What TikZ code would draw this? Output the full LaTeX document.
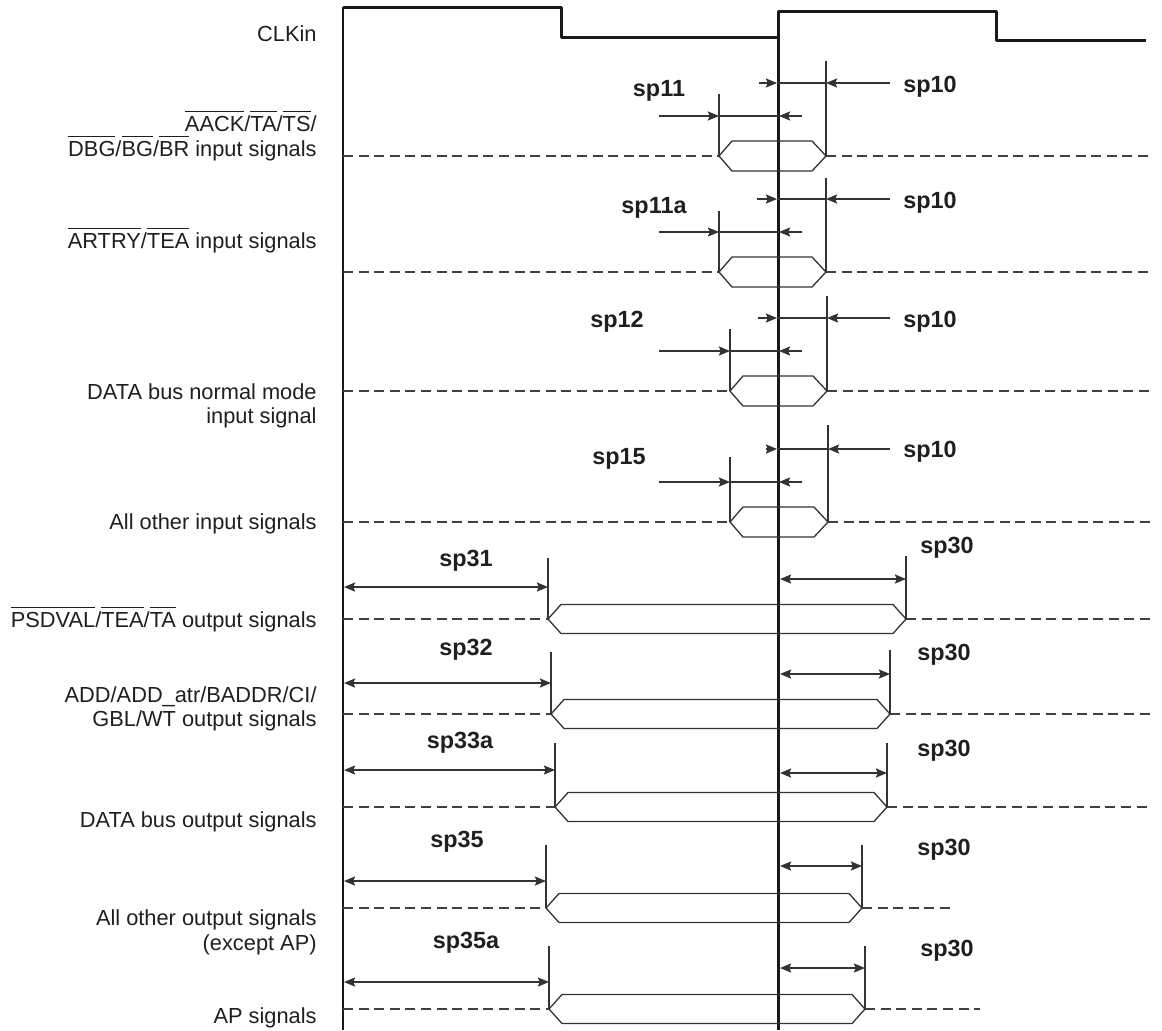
\documentclass[tikz,border=0pt]{standalone}
\usepackage{fontspec}
\setmainfont{Liberation Sans}
\usetikzlibrary{arrows.meta,calc}
\newcommand\ovl[1]{\vbox{\hrule height 0.55pt\kern 1.9pt\hbox{#1}}}
\tikzset{
  sig/.style={line width=1.5pt, draw=black!90},
  lft/.style={line width=1.3pt, draw=black!90},
  thinl/.style={line width=0.65pt, draw=black!80},
  dashl/.style={line width=0.65pt, draw=black!75, dash pattern=on 5pt off 2.8pt},
  arr/.style={thinl, -{Stealth[length=5.6pt,width=4.6pt,inset=1pt]}},
  darr/.style={thinl, {Stealth[length=5.6pt,width=4.6pt,inset=1pt]}-{Stealth[length=5.6pt,width=4.6pt,inset=1pt]}},
  lbl/.style={font=\fontsize{10.9}{13}\selectfont, inner sep=0pt, text=black!88, anchor=base east},
  spl/.style={font=\bfseries\fontsize{11.7}{14}\selectfont, inner sep=0pt, text=black!88, anchor=base},
  spr/.style={spl, anchor=base west}
}
% input row: #1 id, #2 ymid, #3 xl, #4 xr, #5 right marker top, #6 left marker top, #7 y sp10, #8 y sp11, #9 x start of short arrow
\newcommand\inrow[9]{%
  \coordinate (#1s) at (343,#2); \coordinate (#1e) at (1150,#2);
  \coordinate (#1L) at (#3,#2); \coordinate (#1R) at (#4,#2);
  \coordinate (#1Lt) at (#3,#6); \coordinate (#1Rt) at (#4,#5);
  \draw[dashl] (#1s) -- (#1L);
  \draw[dashl] (#1R) -- (#1e);
  \draw[thinl] (#1L) -- ++(13,-15) -- ($(#1R)+(-14,-15)$) -- (#1R) -- ($(#1R)+(-14,15)$) -- ($(#1L)+(13,15)$) -- cycle;
  \draw[thinl] (#1Lt) -- (#1L);
  \draw[thinl] (#1Rt) -- (#1R);
  \coordinate (#1a) at (#9,#7); \coordinate (#1b) at (777,#7);
  \coordinate (#1c) at (#4,#7); \coordinate (#1d) at (890,#7);
  \draw[arr] (#1a) -- (#1b);
  \draw[thinl] (#1b) -- (#1c);
  \draw[arr] (#1d) -- (#1c);
  \coordinate (#1f) at (659,#8); \coordinate (#1g) at (#3,#8);
  \coordinate (#1h) at (779,#8); \coordinate (#1i) at (802,#8);
  \draw[arr] (#1f) -- (#1g);
  \draw[thinl] (#1g) -- (#1h);
  \draw[arr] (#1i) -- (#1h);
}
% output row: #1 id, #2 ymid, #3 xl, #4 xr, #5 left marker top, #6 right marker top, #7 y left arrow, #8 y right arrow, #9 x dash end
\newcommand\outrow[9]{%
  \coordinate (#1s) at (343,#2); \coordinate (#1e) at (#9,#2);
  \coordinate (#1L) at (#3,#2); \coordinate (#1R) at (#4,#2);
  \coordinate (#1Lt) at (#3,#5); \coordinate (#1Rt) at (#4,#6);
  \draw[dashl] (#1s) -- (#1L);
  \draw[dashl] (#1R) -- (#1e);
  \draw[thinl] (#1L) -- ++(13,-14.5) -- ($(#1R)+(-13,-14.5)$) -- (#1R) -- ($(#1R)+(-13,14.5)$) -- ($(#1L)+(13,14.5)$) -- cycle;
  \draw[thinl] (#1Lt) -- (#1L);
  \draw[thinl] (#1Rt) -- (#1R);
  \coordinate (#1p) at (344,#7); \coordinate (#1q) at (#3,#7);
  \coordinate (#1u) at (780,#8); \coordinate (#1v) at (#4,#8);
  \draw[darr] (#1p) -- (#1q);
  \draw[darr] (#1u) -- (#1v);
}
\begin{document}
\begin{tikzpicture}[x=0.5pt,y=-0.5pt]
\useasboundingbox (0,0) rectangle (1162,1030);
% clock and reference lines
\coordinate (c0) at (343,1030); \coordinate (c1) at (343,7); \coordinate (c2) at (561,7);
\coordinate (c3) at (561,37); \coordinate (c4) at (778,37);
\coordinate (d0) at (778,1030); \coordinate (d1) at (778,11); \coordinate (d2) at (996,11);
\coordinate (d3) at (996,40); \coordinate (d4) at (1146,40);
\draw[lft] (c0) -- (c1);
\draw[sig, line join=round] (c1) -- (c2) -- (c3) -- (c4);
\draw[sig, line join=round] (d0) -- (d1) -- (d2) -- (d3) -- (d4);

% input rows
\inrow{i1}{156}{719}{826}{61}{94}{83}{116}{759}
\inrow{i2}{272}{719}{826}{178}{211}{199}{232}{757}
\inrow{i3}{391}{730}{827}{296}{329}{318}{351}{758}
\inrow{i4}{522}{730}{828}{425}{457}{449}{482}{766}

% output rows
\outrow{o1}{619}{548}{906}{558}{556}{587}{579}{1150}
\outrow{o2}{714}{551}{890}{652}{650}{683}{674}{1150}
\outrow{o3}{807}{555}{887}{743}{743}{770}{773}{1150}
\outrow{o4}{908}{546}{862}{845}{845}{881}{866}{953}
\outrow{o5}{1009}{549}{865}{946}{946}{982}{968}{980}

% timing labels
\node[spl] (t11) at (659,96) {sp11};
\node[spr] (t10a) at (903,92) {sp10};
\node[spl] (t11a) at (654,213) {sp11a};
\node[spr] (t10b) at (903,208) {sp10};
\node[spl] (t12) at (617,327) {sp12};
\node[spr] (t10c) at (903,327) {sp10};
\node[spl] (t15) at (619,464) {sp15};
\node[spr] (t10d) at (903,457) {sp10};
\node[spl] (t31) at (466,566) {sp31};
\node[spr] (t30a) at (920,553) {sp30};
\node[spl] (t32) at (466,655) {sp32};
\node[spr] (t30b) at (917,660) {sp30};
\node[spl] (t33) at (460,748) {sp33a};
\node[spr] (t30c) at (917,756) {sp30};
\node[spl] (t35) at (457,847) {sp35};
\node[spr] (t30d) at (917,855) {sp30};
\node[spl] (t35a) at (466,948) {sp35a};
\node[spr] (t30e) at (920,956) {sp30};

% signal names
\node[lbl] (n1) at (317,41) {CLKin};
\node[lbl] (n2a) at (317,131) {\ovl{AACK}/\ovl{TA}/\ovl{TS}/};
\node[lbl] (n2b) at (317,156) {\ovl{DBG}/\ovl{BG}/\ovl{BR} input signals};
\node[lbl] (n3) at (317,248) {\ovl{ARTRY}/\ovl{TEA} input signals};
\node[lbl] (n4a) at (317,399) {DATA bus normal mode};
\node[lbl] (n4b) at (317,423) {input signal};
\node[lbl] (n5) at (317,529) {All other input signals};
\node[lbl] (n6) at (317,627) {\ovl{PSDVAL}/\ovl{TEA}/\ovl{TA} output signals};
\node[lbl] (n7a) at (317,702) {ADD/ADD\_atr/BADDR/CI/};
\node[lbl] (n7b) at (317,726) {GBL/WT output signals};
\node[lbl] (n8) at (317,827) {DATA bus output signals};
\node[lbl] (n9a) at (317,925) {All other output signals};
\node[lbl] (n9b) at (317,950) {(except AP)};
\node[lbl] (n10) at (317,1023) {AP signals};
\end{tikzpicture}
\end{document}
